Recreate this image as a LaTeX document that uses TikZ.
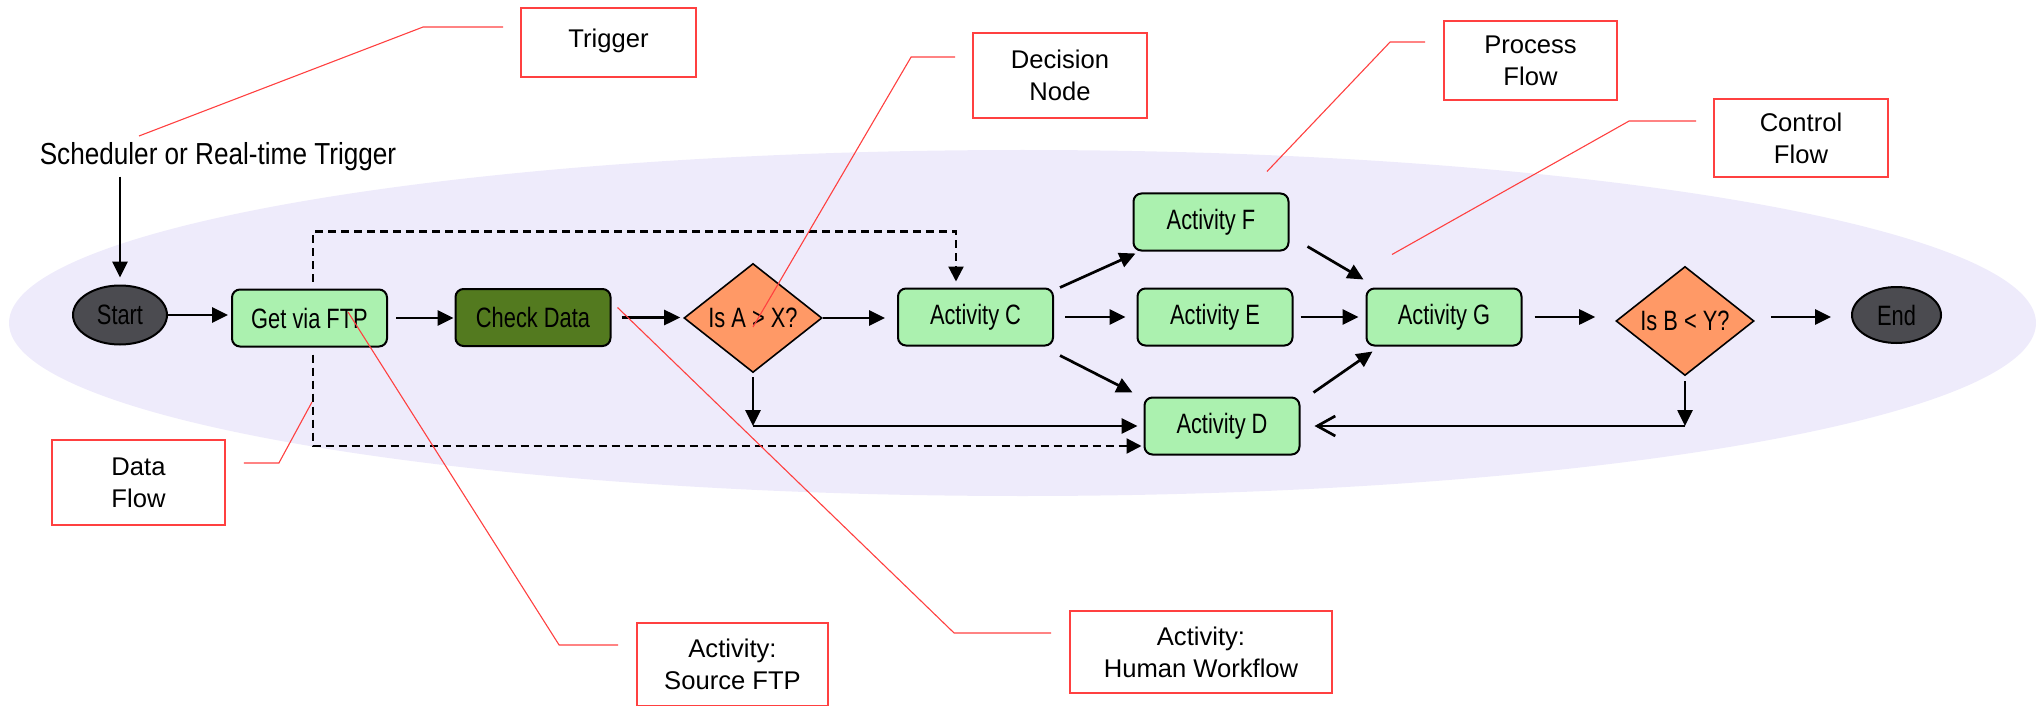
\documentclass[tikz,border=0pt]{standalone}
\usepackage{fontspec}
\setmainfont{Liberation Sans}
\newfontfamily\nodefont{Liberation Sans}[FakeStretch=0.78]
\newfontfamily\schedfont{Liberation Sans}[FakeStretch=0.86]
\usetikzlibrary{arrows.meta,shapes.geometric}
\definecolor{bgell}{RGB}{238,235,251}
\definecolor{actgreen}{RGB}{171,241,175}
\definecolor{darkgreen}{RGB}{83,122,31}
\definecolor{decorange}{RGB}{255,153,102}
\definecolor{termgray}{RGB}{75,75,80}
\definecolor{labelred}{RGB}{255,64,64}
\tikzset{
  activity/.style={draw=black, line width=1pt, rounded corners=4pt, fill=actgreen,
    minimum width=77.5pt, minimum height=28.5pt, inner sep=0pt,
    font=\nodefont\fontsize{14pt}{16pt}\selectfont},
  decision/.style={diamond, draw=black, line width=0.8pt, fill=decorange,
    minimum width=69pt, minimum height=49.5pt, inner sep=0pt,
    font=\nodefont\fontsize{14pt}{16pt}\selectfont},
  terminal/.style={ellipse, draw=black, line width=1pt, fill=termgray,
    minimum width=47pt, minimum height=29.5pt, inner sep=0pt,
    font=\nodefont\fontsize{14pt}{16pt}\selectfont},
  schedtext/.style={inner sep=1.5pt, font=\schedfont\fontsize{15.2pt}{18pt}\selectfont},
  callout/.style={draw=labelred, line width=0.9pt, align=center, inner sep=0pt,
    font=\fontsize{12.8pt}{16pt}\selectfont},
  leader/.style={draw=labelred, line width=0.55pt},
  flow/.style={draw, line width=1.35pt, -{Triangle[length=8pt,width=7.5pt]}},
  openflow/.style={draw, line width=1.35pt, -{Straight Barb[length=9pt,width=10pt]}},
  dataflow/.style={draw, line width=1.15pt, dash pattern=on 4pt off 2.5pt,
    -{Triangle[length=7.5pt,width=7.5pt]}}
}
\begin{document}
\begin{tikzpicture}[x=0.5pt,y=-0.5pt]
\useasboundingbox (0,0) rectangle (2036,706);
\fill[bgell] (1022.5,323) ellipse [x radius=506.75pt, y radius=86.5pt];

% main nodes
\node[schedtext] (sched) at (218,157) {Scheduler or Real-time Trigger};
\node[terminal] (start) at (120,315) {Start};
\node[activity] (get) at (309.5,318) {Get via FTP};
\node[activity, fill=darkgreen] (check) at (533,317.5) {Check Data};
\node[decision] (dec1) at (753,318) {Is A > X?};
\node[activity] (actC) at (975.5,317) {Activity C};
\node[activity] (actF) at (1211,222) {Activity F};
\node[activity] (actE) at (1215,317) {Activity E};
\node[activity] (actD) at (1222,426) {Activity D};
\node[activity] (actG) at (1444,317) {Activity G};
\node[decision] (dec2) at (1685,321) {Is B < Y?};
\node[terminal, minimum width=44.5pt, minimum height=28pt] (end) at (1896.5,315) {End};

% callouts
\node[callout, minimum width=87.5pt, minimum height=34.5pt] (cTrig) at (608.5,42.5) {\raisebox{4pt}{Trigger}};
\node[callout, minimum width=87pt, minimum height=42.5pt] (cDec) at (1060,75.5) {Decision\\Node};
\node[callout, minimum width=86.5pt, minimum height=39.5pt] (cProc) at (1530.5,60.5) {Process\\Flow};
\node[callout, minimum width=87pt, minimum height=39pt] (cCtrl) at (1801,138) {Control\\Flow};
\node[callout, minimum width=86.5pt, minimum height=42.5pt] (cData) at (138.5,482.5) {Data\\Flow};
\node[callout, minimum width=95.5pt, minimum height=41.5pt] (cFTP) at (732.5,664.5) {Activity:\\Source FTP};
\node[callout, minimum width=131pt, minimum height=41pt] (cHuman) at (1201,652) {Activity:\\Human Workflow};

\coordinate (trigpt) at (139,136);
\coordinate (dfpt) at (312,402);

% data flow (dashed)
\draw[dataflow] ([shift={(3.5,-7)}]get.north) -- ++(0,-50) -| ([shift={(-19.5,-6)}]actC.north);
\draw[dataflow] ([shift={(3.5,7)}]get.south) |- ([shift={(-2,20)}]actD.west);

% control / process flow
\draw[flow, shorten <=1pt, shorten >=3.5pt] (sched.south -| start.north) -- (start.north);
\draw[flow, shorten >=1.5pt] (start.east) -- (start.east -| get.west);
\draw[flow, shorten <=4pt, shorten >=0.5pt] (get.east) -- (get.east -| check.west);
\draw[flow, shorten <=5pt, shorten >=1.5pt] (check.east) -- (check.east -| dec1.west);
\draw[flow, shorten >=6pt] (dec1.east) -- (dec1.east -| actC.west);
\draw[flow, shorten <=5.5pt, shorten >=5.5pt] (actC.east) -- (actE.west);
\draw[flow, shorten <=3.5pt, shorten >=3.5pt] (actE.east) -- (actG.west);
\draw[flow, shorten <=6pt, shorten >=10pt] (actG.east) -- (actG.east -| dec2.west);
\draw[flow, shorten <=8pt, shorten >=10pt] (dec2.east |- actG.east) -- (end.west |- actG.east);
\draw[flow] ([shift={(6,0)}]actC.north east) -- ([shift={(3,2)}]actF.south west);
\draw[flow] ([shift={(6,9)}]actC.south east) -- ([shift={(-11,-4)}]actD.north west);
\draw[flow] ([shift={(18,-5)}]actF.south east) -- ([shift={(-2,-8)}]actG.north west);
\draw[flow] ([shift={(13,-4)}]actD.north east) -- ([shift={(7,5)}]actG.south west);
\draw[flow, shorten <=2pt] (dec1.south) -- (dec1.south |- actD.west);
\draw[flow, shorten >=3pt] (dec1.south |- actD.west) -- (actD.west);
\draw[flow, shorten <=2.5pt] (dec2.south) -- (dec2.south |- actD.east);
\draw[openflow, shorten >=7pt] (dec2.south |- actD.east) -- (actD.east);

% red leaders
\draw[leader] ([shift={(-17,-15.5)}]cTrig.west) -- ++(-80,0) -- (trigpt);
\draw[leader] ([shift={(-17,-18.5)}]cDec.west) -- ++(-44,0) -- ([shift={(0,9)}]dec1.center);
\draw[leader] ([shift={(-18,-18.5)}]cProc.west) -- ++(-35,0) -- ([shift={(56,-21)}]actF.north);
\draw[leader] ([shift={(-17,-17)}]cCtrl.west) -- ++(-67,0) -- ([shift={(-52,-33)}]actG.north);
\draw[leader] ([shift={(18,-19.5)}]cData.east) -- ++(35,0) -- (dfpt);
\draw[leader] ([shift={(-18,-19.5)}]cFTP.west) -- ++(-59,0) -- ([shift={(38.5,-6)}]get.center);
\draw[leader] ([shift={(-18,-19)}]cHuman.west) -- ++(-97,0) -- ([shift={(6,-10)}]check.east);
\end{tikzpicture}
\end{document}
